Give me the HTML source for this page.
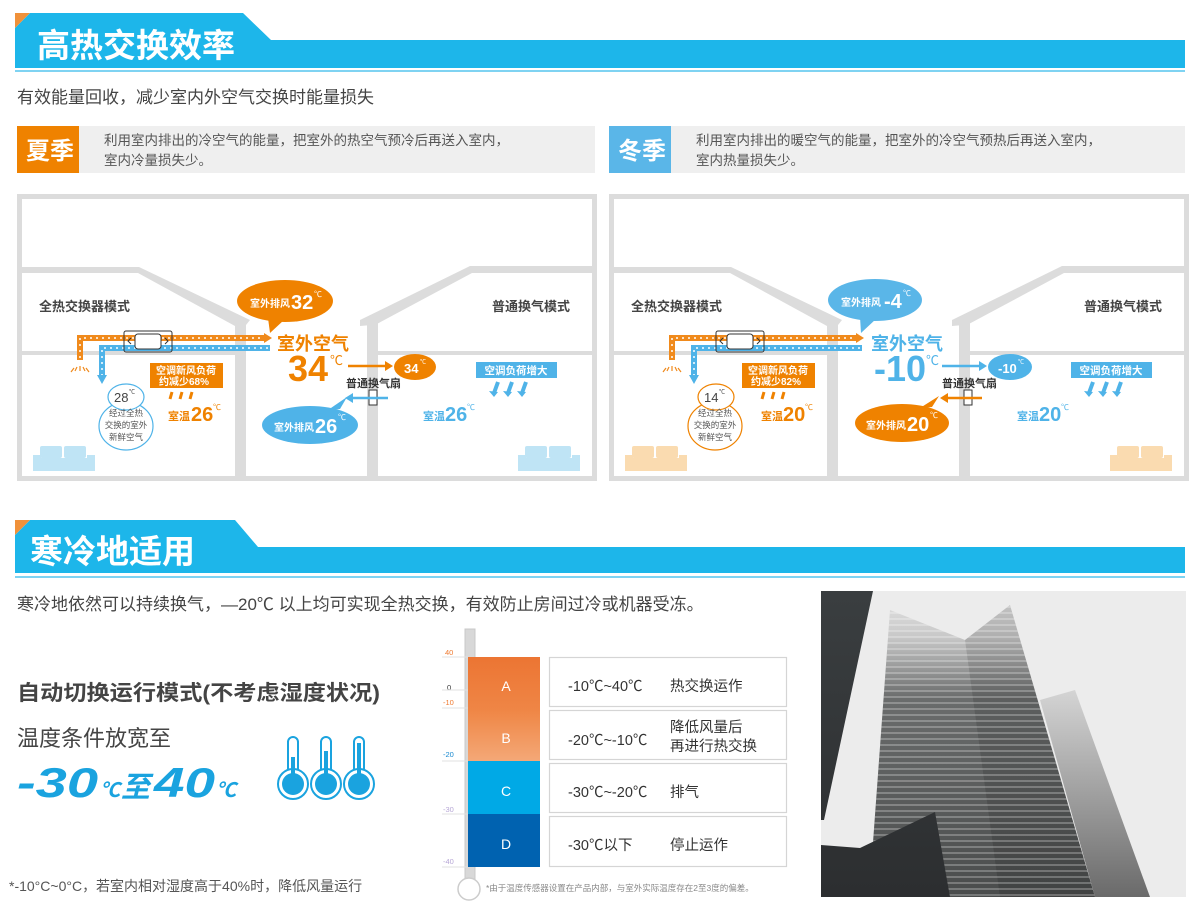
<!DOCTYPE html>
<html><head><meta charset="utf-8"><style>
html,body{margin:0;padding:0;background:#fff;}
svg{display:block;}
text{font-family:"Liberation Sans","Noto Sans CJK SC",sans-serif;}
</style></head><body>
<svg width="1200" height="916" viewBox="0 0 1200 916" xmlns="http://www.w3.org/2000/svg">
<defs>
<linearGradient id="gB" x1="0" y1="0" x2="0" y2="1"><stop offset="0" stop-color="#ef8544"/><stop offset="1" stop-color="#f4a877"/></linearGradient>
<linearGradient id="gA" x1="0" y1="0" x2="0" y2="1"><stop offset="0" stop-color="#ec7533"/><stop offset="1" stop-color="#ef8545"/></linearGradient>
<linearGradient id="bld" gradientUnits="userSpaceOnUse" x1="0" y1="591" x2="0" y2="897"><stop offset="0" stop-color="#e6e6e6"/><stop offset="0.15" stop-color="#c8c8c8"/><stop offset="0.35" stop-color="#6a6c6c"/><stop offset="1" stop-color="#4a4c4c"/></linearGradient>
<linearGradient id="bld2" gradientUnits="userSpaceOnUse" x1="0" y1="591" x2="0" y2="897"><stop offset="0" stop-color="#ececec"/><stop offset="0.3" stop-color="#d8d8d8"/><stop offset="0.7" stop-color="#9a9a9a"/><stop offset="1" stop-color="#6a6a6a"/></linearGradient>
<linearGradient id="bld3" gradientUnits="userSpaceOnUse" x1="0" y1="591" x2="0" y2="897"><stop offset="0" stop-color="#3a3e40"/><stop offset="1" stop-color="#2c2e30"/></linearGradient>
<pattern id="str" width="8" height="6" patternUnits="userSpaceOnUse"><rect y="0" width="8" height="2" fill="#fff" opacity="0.25"/></pattern>
</defs>

<!-- Header 1 -->
<path d="M15,28 L30,13 L243,13 L271,40 L1185,40 L1185,68 L15,68z" fill="#1db6ea"/>
<path d="M15,13 L30,13 L15,28z" fill="#f0913a"/>
<rect x="15" y="70" width="1170" height="2" fill="#7fd3f2"/>
<text x="37" y="57" font-size="33" font-weight="bold" fill="#fff">高热交换效率</text>
<text x="17" y="103" font-size="17" fill="#444">有效能量回收，减少室内外空气交换时能量损失</text>

<!-- season boxes -->
<rect x="17" y="126" width="578" height="47" fill="#efefef"/>
<rect x="17" y="126" width="62" height="47" fill="#ef8200"/>
<text x="26" y="159" font-size="24" font-weight="bold" fill="#fff">夏季</text>
<text x="104" y="145" font-size="13.5" fill="#555">利用室内排出的冷空气的能量，把室外的热空气预冷后再送入室内，</text>
<text x="104" y="165" font-size="13.5" fill="#555">室内冷量损失少。</text>
<rect x="609" y="126" width="576" height="47" fill="#efefef"/>
<rect x="609" y="126" width="62" height="47" fill="#5ab6e8"/>
<text x="618" y="159" font-size="24" font-weight="bold" fill="#fff">冬季</text>
<text x="696" y="145" font-size="13.5" fill="#555">利用室内排出的暖空气的能量，把室外的冷空气预热后再送入室内，</text>
<text x="696" y="165" font-size="13.5" fill="#555">室内热量损失少。</text>

<!-- Diagram frame: summer -->
<g id="sum">
<rect x="19.5" y="196.5" width="575" height="282" fill="#fff" stroke="#dcdcdc" stroke-width="5"/>
<polygon points="17,267 139,267 250,320 246,325 235,326 138,273 17,273" fill="#dcdcdc"/>
<rect x="235" y="322" width="11" height="159" fill="#dcdcdc"/>
<polygon points="360,320 470,266 597,266 597,273 472,273 375,325 372,325 360,326" fill="#dcdcdc"/>
<rect x="367" y="322" width="11" height="159" fill="#dcdcdc"/>
<rect x="17" y="351" width="218" height="4" fill="#dcdcdc"/>
<rect x="378" y="351" width="219" height="4" fill="#dcdcdc"/>
<text x="39" y="311" font-size="13" font-weight="bold" fill="#444">全热交换器模式</text>
<text x="492" y="311" font-size="13" font-weight="bold" fill="#444">普通换气模式</text>
</g>
<use href="#sum" x="592"/>

<!-- Summer contents -->
<g>
<path d="M80,360 L80,338 L264,338" fill="none" stroke="#f08a1c" stroke-width="6"/>
<path d="M80,358 L80,338 L264,338" fill="none" stroke="#fff" stroke-width="1.5" stroke-dasharray="2 4"/>
<path d="M264,333 L272,338 L264,343z" fill="#f08a1c"/>
<path d="M102,376 L102,348 L270,348" fill="none" stroke="#4fb3e8" stroke-width="6"/>
<path d="M102,376 L102,348 L270,348" fill="none" stroke="#fff" stroke-width="1.5" stroke-dasharray="2 4"/>
<path d="M97,375 L102,384 L107,375z" fill="#4fb3e8"/>
<path d="M74,368 l-3,4 M80,366 l0,5 M86,368 l3,4 M77,367 l-2,4 M83,367 l2,4" stroke="#f08a1c" stroke-width="1.2"/>
<rect x="124" y="331" width="48" height="21" rx="2" fill="none" stroke="#333" stroke-width="1"/>
<rect x="135" y="334" width="26" height="15" rx="3" fill="#fff" stroke="#333" stroke-width="1"/>
<path d="M131,338 l-3,3 l3,3 M165,338 l3,3 l-3,3" fill="none" stroke="#333" stroke-width="1"/>
<ellipse cx="285" cy="301" rx="48" ry="21" fill="#ef8200"/>
<path d="M268,318 L270,333 L284,320z" fill="#ef8200"/>
<text x="250" y="307" font-size="10" font-weight="bold" fill="#fff">室外排风</text>
<text x="291" y="309" font-size="20" font-weight="bold" fill="#fff">32</text>
<text x="314" y="297" font-size="8" fill="#fff">℃</text>
<text x="277" y="350" font-size="18" font-weight="bold" fill="#ef8200">室外空气</text>
<text x="288" y="381" font-size="36" font-weight="bold" fill="#ef8200">34</text>
<text x="330" y="365" font-size="13" fill="#ef8200">℃</text>
<line x1="348" y1="366" x2="386" y2="366" stroke="#ef8200" stroke-width="2.5"/>
<path d="M385,361 L393,366 L385,371z" fill="#ef8200"/>
<ellipse cx="415" cy="367" rx="21" ry="13" fill="#ef8200"/>
<text x="404" y="373" font-size="13" font-weight="bold" fill="#fff">34</text>
<text x="420" y="364" font-size="6" fill="#fff">℃</text>
<text x="346" y="387" font-size="11" font-weight="bold" fill="#333">普通换气扇</text>
<rect x="369" y="390" width="8" height="15" fill="#fff" stroke="#333" stroke-width="1"/>
<line x1="388" y1="398" x2="352" y2="398" stroke="#4fb3e8" stroke-width="2.5"/>
<path d="M353,393 L345,398 L353,403z" fill="#4fb3e8"/>
<ellipse cx="310" cy="425" rx="48" ry="19" fill="#4fb3e8"/>
<path d="M340,409 L347,397 L328,410z" fill="#4fb3e8"/>
<text x="274" y="431" font-size="10" font-weight="bold" fill="#fff">室外排风</text>
<text x="315" y="433" font-size="20" font-weight="bold" fill="#fff">26</text>
<text x="338" y="420" font-size="8" fill="#fff">℃</text>
<rect x="150" y="363" width="73" height="25" fill="#ef8200"/>
<text x="156" y="374" font-size="10" font-weight="bold" fill="#fff">空调新风负荷</text>
<text x="159" y="385" font-size="10" font-weight="bold" fill="#fff">约减少68%</text>
<path d="M172,392 l-2,7 M182,392 l-2,7 M192,392 l-2,7" stroke="#ef8200" stroke-width="3"/>
<text x="168" y="420" font-size="11" font-weight="bold" fill="#ef8200">室温</text>
<text x="191" y="421" font-size="20" font-weight="bold" fill="#ef8200">26</text>
<text x="213" y="410" font-size="8" fill="#ef8200">℃</text>
<ellipse cx="126" cy="426" rx="27" ry="24" fill="#fff" stroke="#4fb3e8" stroke-width="1.2"/>
<ellipse cx="126" cy="397" rx="18" ry="13" fill="#fff" stroke="#4fb3e8" stroke-width="1.2"/>
<text x="114" y="402" font-size="13" fill="#444">28</text>
<text x="129" y="394" font-size="6" fill="#444">℃</text>
<text x="126" y="416" font-size="8.5" fill="#555" text-anchor="middle">经过全热</text>
<text x="126" y="428" font-size="8.5" fill="#555" text-anchor="middle">交换的室外</text>
<text x="126" y="440" font-size="8.5" fill="#555" text-anchor="middle">新鲜空气</text>
<g fill="#bfe4f5"><rect x="40" y="446" width="22" height="12" rx="2"/><rect x="64" y="446" width="22" height="12" rx="2"/><rect x="33" y="455" width="8" height="16"/><rect x="87" y="455" width="8" height="16"/><rect x="41" y="458" width="46" height="13"/></g>
<rect x="476" y="362" width="81" height="16" fill="#4fb3e8"/>
<text x="516" y="374" font-size="10.5" font-weight="bold" fill="#fff" text-anchor="middle">空调负荷增大</text>
<path d="M498,382 l-4,11 M512,382 l-4,11 M526,382 l-4,11" stroke="#4fb3e8" stroke-width="4"/>
<path d="M489,391 l5,6 l4,-5z M503,391 l5,6 l4,-5z M517,391 l5,6 l4,-5z" fill="#4fb3e8"/>
<text x="423" y="420" font-size="11" font-weight="bold" fill="#4fb3e8">室温</text>
<text x="445" y="421" font-size="20" font-weight="bold" fill="#4fb3e8">26</text>
<text x="467" y="410" font-size="8" fill="#4fb3e8">℃</text>
<g fill="#bfe4f5"><rect x="525" y="446" width="22" height="12" rx="2"/><rect x="549" y="446" width="22" height="12" rx="2"/><rect x="518" y="455" width="8" height="16"/><rect x="572" y="455" width="8" height="16"/><rect x="526" y="458" width="46" height="13"/></g>
</g>

<!-- Winter contents -->
<g>
<path d="M672,360 L672,338 L856,338" fill="none" stroke="#f08a1c" stroke-width="6"/>
<path d="M672,358 L672,338 L856,338" fill="none" stroke="#fff" stroke-width="1.5" stroke-dasharray="2 4"/>
<path d="M856,333 L864,338 L856,343z" fill="#f08a1c"/>
<path d="M694,376 L694,348 L862,348" fill="none" stroke="#4fb3e8" stroke-width="6"/>
<path d="M694,376 L694,348 L862,348" fill="none" stroke="#fff" stroke-width="1.5" stroke-dasharray="2 4"/>
<path d="M689,375 L694,384 L699,375z" fill="#4fb3e8"/>
<path d="M666,368 l-3,4 M672,366 l0,5 M678,368 l3,4 M669,367 l-2,4 M675,367 l2,4" stroke="#f08a1c" stroke-width="1.2"/>
<rect x="716" y="331" width="48" height="21" rx="2" fill="none" stroke="#333" stroke-width="1"/>
<rect x="727" y="334" width="26" height="15" rx="3" fill="#fff" stroke="#333" stroke-width="1"/>
<path d="M723,338 l-3,3 l3,3 M757,338 l3,3 l-3,3" fill="none" stroke="#333" stroke-width="1"/>
<ellipse cx="875" cy="300" rx="47" ry="21" fill="#5ab6e8"/>
<path d="M860,317 L861,333 L876,319z" fill="#5ab6e8"/>
<text x="841" y="306" font-size="10" font-weight="bold" fill="#fff">室外排风</text>
<text x="884" y="308" font-size="20" font-weight="bold" fill="#fff">-4</text>
<text x="903" y="296" font-size="8" fill="#fff">℃</text>
<text x="871" y="350" font-size="18" font-weight="bold" fill="#4fb3e8">室外空气</text>
<text x="874" y="381" font-size="36" font-weight="bold" fill="#4fb3e8">-10</text>
<text x="926" y="365" font-size="13" fill="#4fb3e8">℃</text>
<line x1="942" y1="366" x2="980" y2="366" stroke="#4fb3e8" stroke-width="2.5"/>
<path d="M979,361 L987,366 L979,371z" fill="#4fb3e8"/>
<ellipse cx="1010" cy="367" rx="22" ry="13" fill="#4fb3e8"/>
<text x="998" y="373" font-size="13" font-weight="bold" fill="#fff">-10</text>
<text x="1018" y="364" font-size="6" fill="#fff">℃</text>
<text x="942" y="387" font-size="11" font-weight="bold" fill="#333">普通换气扇</text>
<rect x="964" y="390" width="8" height="15" fill="#fff" stroke="#333" stroke-width="1"/>
<line x1="982" y1="398" x2="947" y2="398" stroke="#ef8200" stroke-width="2.5"/>
<path d="M948,393 L940,398 L948,403z" fill="#ef8200"/>
<ellipse cx="902" cy="423" rx="47" ry="19" fill="#ef8200"/>
<path d="M932,407 L939,396 L920,408z" fill="#ef8200"/>
<text x="866" y="429" font-size="10" font-weight="bold" fill="#fff">室外排风</text>
<text x="907" y="431" font-size="20" font-weight="bold" fill="#fff">20</text>
<text x="930" y="418" font-size="8" fill="#fff">℃</text>
<rect x="742" y="363" width="73" height="25" fill="#ef8200"/>
<text x="748" y="374" font-size="10" font-weight="bold" fill="#fff">空调新风负荷</text>
<text x="751" y="385" font-size="10" font-weight="bold" fill="#fff">约减少82%</text>
<path d="M764,392 l-2,7 M774,392 l-2,7 M784,392 l-2,7" stroke="#ef8200" stroke-width="3"/>
<text x="761" y="420" font-size="11" font-weight="bold" fill="#ef8200">室温</text>
<text x="783" y="421" font-size="20" font-weight="bold" fill="#ef8200">20</text>
<text x="805" y="410" font-size="8" fill="#ef8200">℃</text>
<ellipse cx="715" cy="426" rx="27" ry="24" fill="#fff" stroke="#ef8200" stroke-width="1.2"/>
<ellipse cx="716" cy="397" rx="18" ry="13" fill="#fff" stroke="#ef8200" stroke-width="1.2"/>
<text x="704" y="402" font-size="13" fill="#444">14</text>
<text x="719" y="394" font-size="6" fill="#444">℃</text>
<text x="715" y="416" font-size="8.5" fill="#555" text-anchor="middle">经过全热</text>
<text x="715" y="428" font-size="8.5" fill="#555" text-anchor="middle">交换的室外</text>
<text x="715" y="440" font-size="8.5" fill="#555" text-anchor="middle">新鲜空气</text>
<g fill="#fadbb0"><rect x="632" y="446" width="22" height="12" rx="2"/><rect x="656" y="446" width="22" height="12" rx="2"/><rect x="625" y="455" width="8" height="16"/><rect x="679" y="455" width="8" height="16"/><rect x="633" y="458" width="46" height="13"/></g>
<rect x="1071" y="362" width="81" height="16" fill="#4fb3e8"/>
<text x="1111" y="374" font-size="10.5" font-weight="bold" fill="#fff" text-anchor="middle">空调负荷增大</text>
<path d="M1093,382 l-4,11 M1107,382 l-4,11 M1121,382 l-4,11" stroke="#4fb3e8" stroke-width="4"/>
<path d="M1084,391 l5,6 l4,-5z M1098,391 l5,6 l4,-5z M1112,391 l5,6 l4,-5z" fill="#4fb3e8"/>
<text x="1017" y="420" font-size="11" font-weight="bold" fill="#4fb3e8">室温</text>
<text x="1039" y="421" font-size="20" font-weight="bold" fill="#4fb3e8">20</text>
<text x="1061" y="410" font-size="8" fill="#4fb3e8">℃</text>
<g fill="#fadbb0"><rect x="1117" y="446" width="22" height="12" rx="2"/><rect x="1141" y="446" width="22" height="12" rx="2"/><rect x="1110" y="455" width="8" height="16"/><rect x="1164" y="455" width="8" height="16"/><rect x="1118" y="458" width="46" height="13"/></g>
</g>

<!-- Header 2 -->
<path d="M15,535 L30,520 L235,520 L258,547 L1185,547 L1185,573 L15,573z" fill="#1db6ea"/>
<path d="M15,520 L30,520 L15,535z" fill="#f0913a"/>
<rect x="15" y="576" width="1170" height="2" fill="#7fd3f2"/>
<text x="30" y="563" font-size="33" font-weight="bold" fill="#fff">寒冷地适用</text>
<text x="17" y="610" font-size="17" fill="#444">寒冷地依然可以持续换气，—20℃ 以上均可实现全热交换，有效防止房间过冷或机器受冻。</text>

<text x="17" y="700" font-size="21" font-weight="bold" fill="#444" textLength="363" lengthAdjust="spacingAndGlyphs">自动切换运行模式(不考虑湿度状况)</text>
<text x="17" y="746" font-size="22" fill="#444">温度条件放宽至</text>
<g font-style="italic" font-weight="bold" fill="#1aa3df">
<text x="17" y="797" font-size="42" textLength="81" lengthAdjust="spacingAndGlyphs">-30</text>
<text x="100" y="797" font-size="20">℃</text>
<text x="121" y="797" font-size="29">至</text>
<text x="154" y="797" font-size="42" textLength="61" lengthAdjust="spacingAndGlyphs">40</text>
<text x="216" y="797" font-size="20">℃</text>
</g>
<g fill="#1aa3df" stroke="#1aa3df">
<g><rect x="288" y="737" width="10" height="45" rx="5" fill="#fff" stroke-width="2"/><circle cx="293" cy="784" r="15" fill="#fff" stroke-width="2"/><circle cx="293" cy="784" r="11" stroke="none"/><rect x="291" y="757" width="4" height="27" stroke="none"/></g>
<g><rect x="321" y="737" width="10" height="45" rx="5" fill="#fff" stroke-width="2"/><circle cx="326" cy="784" r="15" fill="#fff" stroke-width="2"/><circle cx="326" cy="784" r="11" stroke="none"/><rect x="324" y="751" width="4" height="33" stroke="none"/></g>
<g><rect x="354" y="737" width="10" height="45" rx="5" fill="#fff" stroke-width="2"/><circle cx="359" cy="784" r="15" fill="#fff" stroke-width="2"/><circle cx="359" cy="784" r="11" stroke="none"/><rect x="357" y="743" width="4" height="41" stroke="none"/></g>
</g>
<text x="9" y="891" font-size="14" fill="#555">*-10°C~0°C，若室内相对湿度高于40%时，降低风量运行</text>

<!-- Chart -->
<rect x="465" y="629" width="10" height="250" fill="#d8d8d8" stroke="#c8c8c8"/>
<circle cx="469" cy="889" r="11" fill="#fff" stroke="#ccc" stroke-width="1.5"/>
<rect x="468" y="657" width="72" height="52" fill="url(#gA)"/>
<rect x="468" y="709" width="72" height="52" fill="url(#gB)"/>
<rect x="468" y="761" width="72" height="53" fill="#00a9e6"/>
<rect x="468" y="814" width="72" height="53" fill="#0062b0"/>
<g font-size="14" fill="#fff" text-anchor="middle"><text x="506" y="691">A</text><text x="506" y="743">B</text><text x="506" y="796">C</text><text x="506" y="849">D</text></g>
<g font-size="7.5"><text x="445" y="655" fill="#ef7a30">40</text><text x="447" y="690" fill="#333">0</text><text x="443" y="705" fill="#ef7a30">-10</text><text x="443" y="757" fill="#1a8ad0">-20</text><text x="443" y="812" fill="#b7a7d6">-30</text><text x="443" y="864" fill="#b7a7d6">-40</text></g>
<g stroke="#e0e0e0" stroke-width="1"><line x1="442" y1="657" x2="468" y2="657"/><line x1="442" y1="690" x2="468" y2="690"/><line x1="442" y1="708" x2="468" y2="708"/><line x1="442" y1="761" x2="468" y2="761"/><line x1="442" y1="814" x2="468" y2="814"/><line x1="442" y1="867" x2="468" y2="867"/></g>
<g fill="#fff" stroke="#d5d5d5" stroke-width="1.2">
<rect x="549.5" y="657.5" width="237" height="49"/><rect x="549.5" y="710.5" width="237" height="49"/><rect x="549.5" y="763.5" width="237" height="49"/><rect x="549.5" y="816.5" width="237" height="50"/>
</g>
<g font-size="14.5" fill="#333">
<text x="568" y="691">-10℃~40℃</text><text x="670" y="691">热交换运作</text>
<text x="568" y="745">-20℃~-10℃</text><text x="670" y="732">降低风量后</text><text x="670" y="751">再进行热交换</text>
<text x="568" y="797">-30℃~-20℃</text><text x="670" y="797">排气</text>
<text x="568" y="850">-30℃以下</text><text x="670" y="850">停止运作</text>
</g>
<text x="486" y="891" font-size="8.5" fill="#888">*由于温度传感器设置在产品内部，与室外实际温度存在2至3度的偏差。</text>

<!-- Photo -->
<rect x="821" y="591" width="365" height="306" fill="#ececec"/>
<polygon points="1040,700 1075,690 1150,897 1095,897" fill="url(#bld2)"/>
<polygon points="890,610 965,640 1010,605 1095,897 869,897" fill="url(#bld)"/>
<polygon points="965,640 1010,605 1095,897 1000,897" fill="#000" opacity="0.12"/>
<polygon points="890,610 965,640 1010,605 1095,897 869,897" fill="url(#str)"/>
<polygon points="821,591 873,591 824,820 821,820" fill="url(#bld3)"/>
<polygon points="821,845 860,848 935,812 950,897 821,897" fill="url(#bld3)"/>
</svg>
</body></html>
